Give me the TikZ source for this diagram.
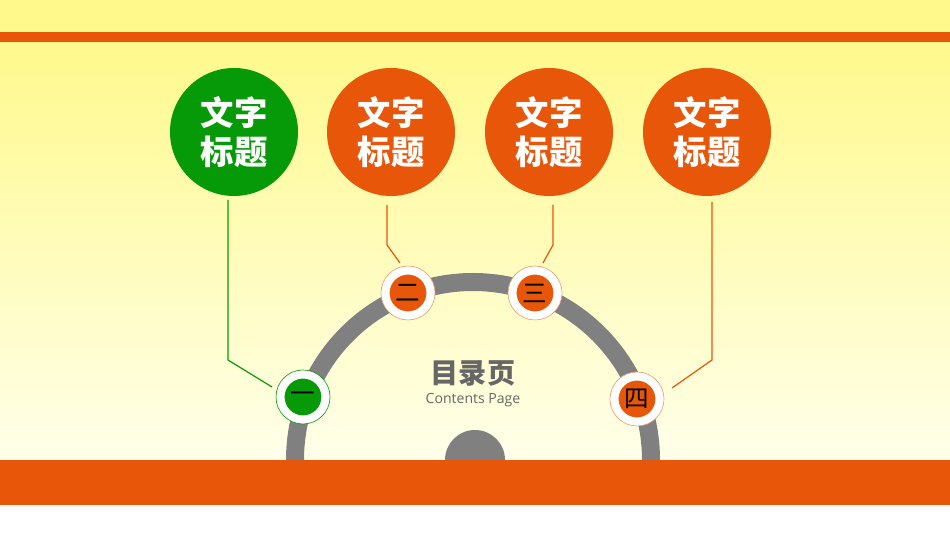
\documentclass[tikz,border=0pt]{standalone}
\usepackage{fontspec}
\setmainfont{Open Sans}
\newfontfamily\cjk{Noto Sans CJK SC}
\definecolor{myorange}{HTML}{E8560A}
\definecolor{mygreen}{HTML}{079A08}
\definecolor{mygray}{HTML}{808080}
\definecolor{topyellow}{HTML}{FFF98C}
\definecolor{lowyellow}{HTML}{FFFFEA}
\tikzset{
  bigdot/.style={circle,minimum size=128\px,inner sep=0pt,text=white,font=\cjk\bfseries\fontsize{19}{22}\selectfont,align=center},
  smalldot/.style={circle,minimum size=42\px,inner sep=0pt,draw=white,line width=5\px,font=\cjk\fontsize{14}{14}\selectfont},
  ring/.style={circle,minimum size=54\px,inner sep=0pt,fill=white},
  lead/.style={line width=1.2\px}
}
\newlength\px \setlength\px{0.02cm}
\begin{document}
\begin{tikzpicture}[x=0.02cm,y=-0.02cm]
\useasboundingbox (0,0) rectangle (950,536);
% -- background
\fill[topyellow] (0,0) rectangle (950,32);
\fill[myorange] (0,32) rectangle (950,43);
\shade[top color=topyellow,bottom color=lowyellow] (0,43) rectangle (950,460);
\fill[myorange] (0,460) rectangle (950,505);
\fill[white] (0,505) rectangle (950,536);

% -- arc
\draw[mygray,line width=18\px] (295,460) arc[start angle=180,end angle=360,radius=178];
\fill[mygray] (445,460) arc[start angle=180,end angle=360,radius=30] -- cycle;

% -- title
\node[text=mygray!80!black,font=\cjk\bfseries\fontsize{16}{16}\selectfont] (title) at (473,373) {目录页};
\node[text=mygray!80!black,font=\fontsize{8}{10}\selectfont] (sub) at (473,400) {Contents Page};

% -- big circles
\node[bigdot,fill=mygreen] (t1) at (234,132) {文字\\标题};
\node[bigdot,fill=myorange] (t2) at (391,132) {文字\\标题};
\node[bigdot,fill=myorange] (t3) at (549,132) {文字\\标题};
\node[bigdot,fill=myorange] (t4) at (707,132) {文字\\标题};

% -- small circles
\node[ring,draw=mygreen,line width=0.6\px] at (303,397) {};
\node[smalldot,fill=mygreen] (n1) at (303,397) {一};
\node[ring,draw=myorange!60,line width=0.6\px] at (408,293) {};
\node[smalldot,fill=myorange] (n2) at (408,293) {二};
\node[ring,draw=myorange!60,line width=0.6\px] at (535,293) {};
\node[smalldot,fill=myorange] (n3) at (535,293) {三};
\node[ring,draw=myorange!60,line width=0.6\px] at (637,399) {};
\node[smalldot,fill=myorange] (n4) at (637,399) {四};

% -- leaders
\coordinate (b1) at (228,360);
\coordinate (b2) at (387,245);
\coordinate (b3) at (553,245);
\coordinate (b4) at (712,360);
\draw[lead,mygreen] (228,200) -- (b1) -- (272,387);
\draw[lead,myorange] (387,205) -- (b2) -- (400,263);
\draw[lead,myorange] (553,205) -- (b3) -- (543,263);
\draw[lead,myorange] (712,202) -- (b4) -- (672,388);
\end{tikzpicture}
\end{document}
